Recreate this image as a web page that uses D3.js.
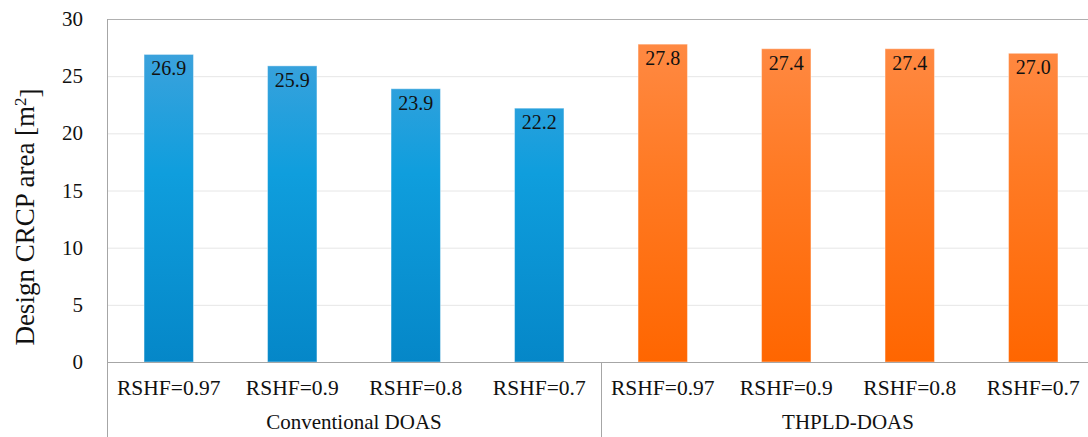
<!DOCTYPE html>
<html>
<head>
<meta charset="utf-8">
<script src="https://cdn.jsdelivr.net/npm/d3@7"></script>
<style>
  html, body { margin: 0; padding: 0; background: #fff; }
  svg { display: block; }
  text { font-family: "Liberation Serif", "Times New Roman", serif; fill: #111; }
</style>
</head>
<body>
<svg id="chart" width="1088" height="437"></svg>
<script>
// Design CRCP area by system and RSHF
const groups = ["Conventional DOAS", "THPLD-DOAS"];
const categories = ["RSHF=0.97", "RSHF=0.9", "RSHF=0.8", "RSHF=0.7"];
const conventionalValues = [26.9, 25.9, 23.9, 22.2];
const thpldValues = [27.8, 27.4, 27.4, 27.0];
const yTicks = [0, 5, 10, 15, 20, 25, 30];
const yTitle = "Design CRCP area [m";
const yTitleSup = "2";

const seriesValues = [conventionalValues, thpldValues];

// flatten to one row per bar
const rows = [];
groups.forEach((g, gi) => {
  categories.forEach((c, ci) => {
    rows.push({ group: g, gi: gi, cat: c, key: g + "|" + c, value: seriesValues[gi][ci] });
  });
});

const svg = d3.select("#chart");
const plotLeft = 107, plotRight = 1095, plotTop = 19, plotBottom = 362, svgBottom = 437;

const x = d3.scaleBand()
  .domain(rows.map(d => d.key))
  .range([plotLeft, plotRight])
  .paddingInner(0.6)
  .paddingOuter(0.3);

const y = d3.scaleLinear().domain([0, 30]).range([plotBottom, plotTop]);

// gradients
const defs = svg.append("defs");
const grads = [
  { id: "gBlue", stops: [["0%", "#48a3dc"], ["45%", "#0f9edd"], ["100%", "#0587c8"]] },
  { id: "gOrange", stops: [["0%", "#ff8c48"], ["45%", "#ff7a24"], ["100%", "#ff6600"]] }
];
grads.forEach(g => {
  const lg = defs.append("linearGradient").attr("id", g.id)
    .attr("gradientUnits", "userSpaceOnUse")
    .attr("x1", 0).attr("x2", 0).attr("y1", y(30)).attr("y2", y(0));
  g.stops.forEach(s => lg.append("stop").attr("offset", s[0]).attr("stop-color", s[1]));
});

// gridlines
svg.append("g").selectAll("line")
  .data(yTicks.filter(t => t > 0 && t < 30))
  .join("line")
  .attr("x1", plotLeft).attr("x2", plotRight)
  .attr("y1", d => y(d) + 0.5).attr("y2", d => y(d) + 0.5)
  .attr("stroke", "#e6e6e6").attr("stroke-width", 1);

// top frame line
svg.append("line")
  .attr("x1", plotLeft).attr("x2", plotRight)
  .attr("y1", y(30) + 0.5).attr("y2", y(30) + 0.5)
  .attr("stroke", "#b0b0b0").attr("stroke-width", 1);

// bars
svg.append("g").selectAll("rect")
  .data(rows)
  .join("rect")
  .attr("x", d => x(d.key))
  .attr("width", x.bandwidth())
  .attr("y", d => y(d.value))
  .attr("height", d => y(0) - y(d.value))
  .attr("fill", d => d.gi === 0 ? "url(#gBlue)" : "url(#gOrange)")
  .attr("stroke", "rgba(255,255,255,0.4)")
  .attr("stroke-width", 1);

// value labels
svg.append("g").selectAll("text")
  .data(rows)
  .join("text")
  .attr("x", d => x(d.key) + x.bandwidth() / 2)
  .attr("y", d => y(d.value) + 21)
  .attr("text-anchor", "middle")
  .style("font-size", "20px")
  .text(d => d.value.toFixed(1));

// baseline
svg.append("line")
  .attr("x1", plotLeft).attr("x2", plotRight)
  .attr("y1", y(0) + 0.5).attr("y2", y(0) + 0.5)
  .attr("stroke", "#a6a6a6").attr("stroke-width", 1.2);

// left frame line, extending down through the category area
svg.append("line")
  .attr("x1", plotLeft + 0.5).attr("x2", plotLeft + 0.5)
  .attr("y1", y(30)).attr("y2", svgBottom)
  .attr("stroke", "#a6a6a6").attr("stroke-width", 1);

// group extents along the category axis
const groupEdges = groups.map((g, gi) => {
  const keys = rows.filter(r => r.gi === gi).map(r => r.key);
  const step = x.step();
  return {
    g: g,
    x0: x(keys[0]) + x.bandwidth() / 2 - step / 2,
    x1: x(keys[keys.length - 1]) + x.bandwidth() / 2 + step / 2
  };
});

// group separators
svg.append("g").selectAll("line")
  .data(groupEdges.slice(1))
  .join("line")
  .attr("x1", d => Math.round(d.x0) + 0.5).attr("x2", d => Math.round(d.x0) + 0.5)
  .attr("y1", y(0)).attr("y2", svgBottom)
  .attr("stroke", "#a6a6a6").attr("stroke-width", 1);

// y tick labels
svg.append("g").selectAll("text")
  .data(yTicks)
  .join("text")
  .attr("x", 83)
  .attr("y", d => y(d))
  .attr("dy", "0.34em")
  .attr("text-anchor", "end")
  .style("font-size", "21px")
  .text(d => d);

// category labels
svg.append("g").selectAll("text")
  .data(rows)
  .join("text")
  .attr("x", d => x(d.key) + x.bandwidth() / 2)
  .attr("y", 395)
  .attr("text-anchor", "middle")
  .style("font-size", "21.5px")
  .text(d => d.cat);

// group labels
svg.append("g").selectAll("text")
  .data(groupEdges)
  .join("text")
  .attr("x", d => (d.x0 + d.x1) / 2)
  .attr("y", 429)
  .attr("text-anchor", "middle")
  .style("font-size", "21px")
  .text(d => d.g);

// y axis title
const t = svg.append("text")
  .attr("transform", "translate(34,217) rotate(-90)")
  .attr("text-anchor", "middle")
  .style("font-size", "27px");
t.append("tspan").text(yTitle);
t.append("tspan").attr("dy", "-0.45em").style("font-size", "17px").text(yTitleSup);
t.append("tspan").attr("dy", "0.45em").text("]");
</script>
</body>
</html>
